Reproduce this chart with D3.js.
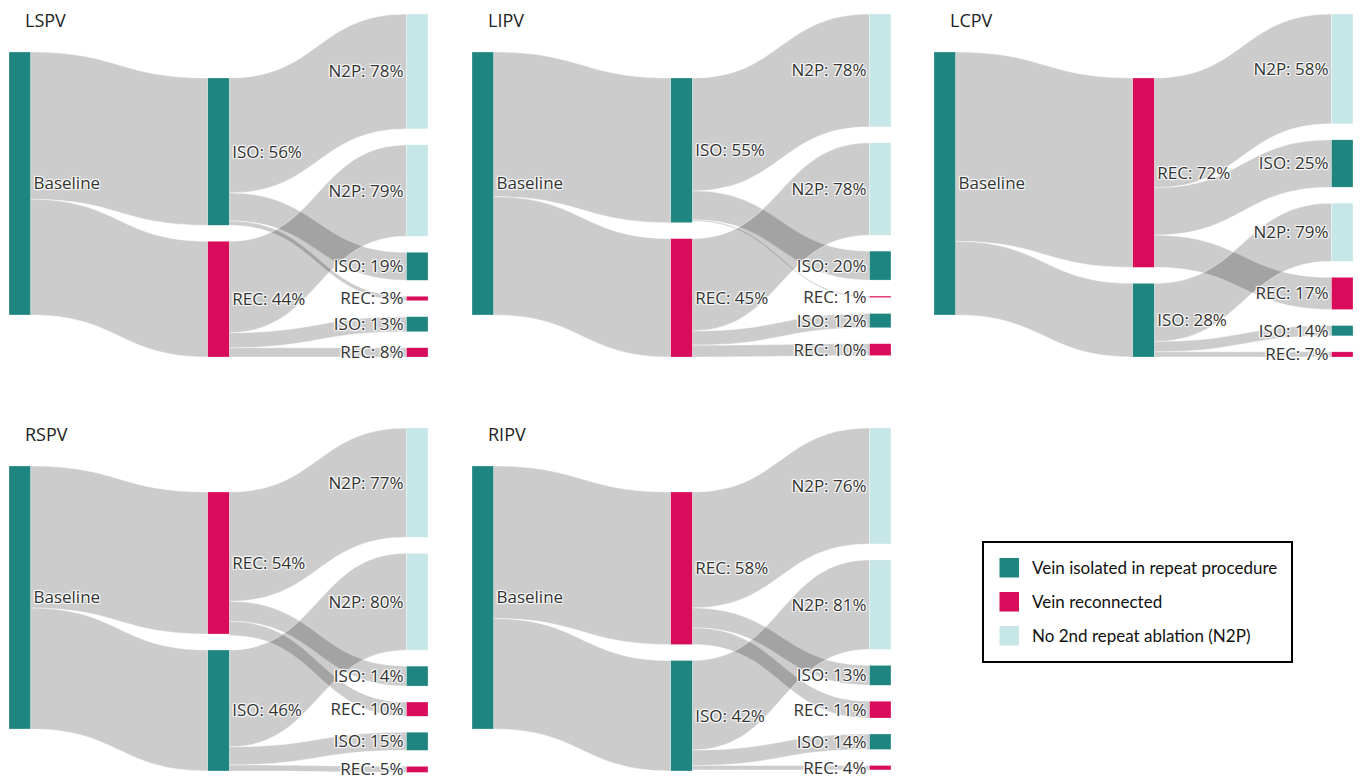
<!DOCTYPE html>
<html>
<head>
<meta charset="utf-8">
<script src="https://cdn.jsdelivr.net/npm/d3@7"></script>
<style>
  html, body { margin: 0; padding: 0; background: #fff; }
  svg text.lbl { font-family: "Open Sans", sans-serif; font-size: 17px; fill: #333;
    text-shadow: 1px 1px 1px #fff, 1px -1px 1px #fff, -1px 1px 1px #fff, -1px -1px 1px #fff; }
  svg text.ttl { font-family: "Open Sans", sans-serif; font-size: 18px; fill: #222; }
  svg text.leg { font-family: "Lato", sans-serif; font-size: 17px; fill: #111; }
</style>
</head>
<body>
<svg id="chart" width="1362" height="779"></svg>
<script>
// ---- data ----
const panelNames = ["LSPV", "LIPV", "LCPV", "RSPV", "RIPV"];
// type of the two middle nodes (top, bottom)
const midTypes = [["ISO", "REC"], ["ISO", "REC"], ["REC", "ISO"], ["REC", "ISO"], ["REC", "ISO"]];
// share of baseline (%) for the two middle nodes
const midPct = [[56, 44], [55, 45], [72, 28], [54, 46], [58, 42]];
// outcome categories of the right column
const outTypes = ["N2P", "ISO", "REC"];
// share (%) of each middle node going to N2P, ISO, REC
const outPct = [
  [[78, 19, 3], [79, 13, 8]],
  [[78, 20, 1], [78, 12, 10]],
  [[58, 25, 17], [79, 14, 7]],
  [[77, 14, 10], [80, 15, 5]],
  [[76, 13, 11], [81, 14, 4]]
];
// vertical order of right-column nodes: [middle node index, outcome index]
const rightOrder = [
  [[0, 0], [1, 0], [0, 1], [0, 2], [1, 1], [1, 2]],
  [[0, 0], [1, 0], [0, 1], [0, 2], [1, 1], [1, 2]],
  [[0, 0], [0, 1], [1, 0], [0, 2], [1, 1], [1, 2]],
  [[0, 0], [1, 0], [0, 1], [0, 2], [1, 1], [1, 2]],
  [[0, 0], [1, 0], [0, 1], [0, 2], [1, 1], [1, 2]]
];
const legendLabels = ["Vein isolated in repeat procedure", "Vein reconnected", "No 2nd repeat ablation (N2P)"];
const legendTypes = ["ISO", "REC", "N2P"];

// ---- style ----
const colors = { ISO: "#1f8580", REC: "#d80c5a", N2P: "#c7e6e7", BASE: "#1f8580" };
const panelPos = [[9, 14], [472, 14], [934, 14], [9, 428], [472, 428]];
const panelW = 419, panelH = 343, nodeW = 21.5;

const svg = d3.select("#chart");

panelNames.forEach((name, p) => {
  const [px, py] = panelPos[p];
  const g = svg.append("g");
  const x = d3.scaleLinear().domain([0, 2]).range([px, px + panelW - nodeW]);
  const k = d3.scaleLinear().domain([0, 100]).range([0, 263]);
  const gap = (panelH - k(100)) / 5;

  // nodes
  const nodes = [];
  const base = { col: 0, type: "BASE", label: "Baseline", value: 100 };
  base.y0 = py + (panelH - k(100)) / 2 - 2; base.y1 = base.y0 + k(100);
  nodes.push(base);
  const mids = [];
  let yy = py + panelH - (k(100) + gap);
  midTypes[p].forEach((t, i) => {
    const n = { col: 1, type: t, label: t + ": " + midPct[p][i] + "%", value: midPct[p][i] };
    n.y0 = yy; n.y1 = yy + k(n.value); yy = n.y1 + gap;
    mids.push(n); nodes.push(n);
  });
  const rights = {};
  yy = py;
  rightOrder[p].forEach(([mi, oi]) => {
    const v = midPct[p][mi] * outPct[p][mi][oi] / 100;
    const n = { col: 2, type: outTypes[oi], label: outTypes[oi] + ": " + outPct[p][mi][oi] + "%", value: v };
    n.y0 = yy; n.y1 = yy + k(v); yy = n.y1 + gap;
    rights[mi + "_" + oi] = n; nodes.push(n);
  });

  // links
  const links = [];
  mids.forEach(m => links.push({ s: base, t: m, value: m.value }));
  mids.forEach((m, mi) => outTypes.forEach((o, oi) => {
    const t = rights[mi + "_" + oi];
    links.push({ s: m, t: t, value: t.value });
  }));
  nodes.forEach(n => {
    let o = n.y0;
    links.filter(l => l.s === n).sort((a, b) => a.t.y0 - b.t.y0).forEach(l => { l.sy0 = o; o += k(l.value); l.sy1 = o; });
    let i = n.y0;
    links.filter(l => l.t === n).sort((a, b) => a.s.y0 - b.s.y0).forEach(l => { l.ty0 = i; i += k(l.value); l.ty1 = i; });
  });

  const linkPath = l => {
    const x0 = x(l.s.col) + nodeW, x1 = x(l.t.col);
    const xm = d3.interpolateNumber(x0, x1)(0.5);
    const pth = d3.path();
    pth.moveTo(x0, l.sy0);
    pth.bezierCurveTo(xm, l.sy0, xm, l.ty0, x1, l.ty0);
    pth.lineTo(x1, l.ty1);
    pth.bezierCurveTo(xm, l.ty1, xm, l.sy1, x0, l.sy1);
    pth.closePath();
    return pth.toString();
  };

  g.append("g").selectAll("path").data(links).join("path")
    .attr("d", linkPath)
    .attr("fill", "#000").attr("fill-opacity", 0.2)
    .attr("stroke", "#fff").attr("stroke-width", 0.6).attr("stroke-opacity", 0.7);

  g.append("g").selectAll("rect").data(nodes).join("rect")
    .attr("x", d => x(d.col)).attr("width", nodeW)
    .attr("y", d => d.y0).attr("height", d => Math.max(1.5, d.y1 - d.y0))
    .attr("fill", d => colors[d.type])
    .attr("stroke", "#fff").attr("stroke-width", 0.5).attr("stroke-opacity", 0.5);

  g.append("g").selectAll("text").data(nodes).join("text")
    .attr("class", "lbl")
    .attr("x", d => d.col === 2 ? x(d.col) - 3 : x(d.col) + nodeW + 3)
    .attr("y", d => (d.y0 + d.y1) / 2)
    .attr("dy", "0.35em")
    .attr("text-anchor", d => d.col === 2 ? "end" : "start")
    .text(d => d.label);

  g.append("text").attr("class", "ttl")
    .attr("x", px + 16).attr("y", py + 13)
    .text(name);
});

// legend
const lg = svg.append("g");
lg.append("rect").attr("x", 983).attr("y", 542).attr("width", 309).attr("height", 120)
  .attr("fill", "#fff").attr("stroke", "#000").attr("stroke-width", 2);
const ly = d3.scalePoint().domain(legendLabels).range([568, 636]);
lg.selectAll("rect.sw").data(legendLabels).join("rect").attr("class", "sw")
  .attr("x", 999.5).attr("y", d => ly(d) - 10).attr("width", 19.5).attr("height", 19.5)
  .attr("fill", (d, i) => colors[legendTypes[i]]);
lg.selectAll("text").data(legendLabels).join("text").attr("class", "leg")
  .attr("x", 1032).attr("y", d => ly(d)).attr("dy", "0.35em")
  .text(d => d);
</script>
</body>
</html>
